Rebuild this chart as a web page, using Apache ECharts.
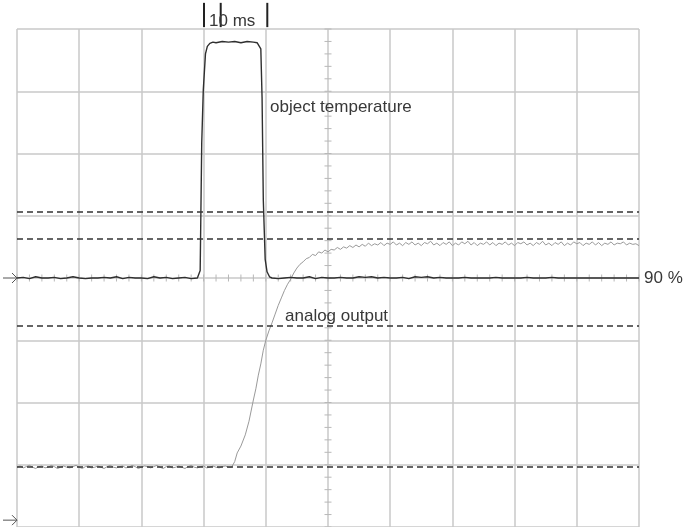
<!DOCTYPE html>
<html>
<head>
<meta charset="utf-8">
<script src="https://cdn.jsdelivr.net/npm/echarts@6/dist/echarts.min.js"></script>
<style>
html,body{margin:0;padding:0;background:#fff;}
#chart{width:683px;height:527px;}
</style>
</head>
<body>
<div id="chart"></div>
<script>
// x: time in ms (10 ms per division), y: screen divisions (0 = bottom, 8 = top)
const objTime = [0,1,2,3,4,5,6,7,8,9,10,11,12,13,14,15,16,17,18,19,20,21,22,23,24,25,26,27,28,29,
  29.3,29.45,29.7,29.95,30.3,30.6,31,31.5,32,33,34,35,36,37,38,38.6,38.9,39.2,39.4,39.6,39.9,40.2,40.6,
  41,42,43,44,45,46,47,48,49,50,51,52,53,54,55,56,57,58,59,60,61,62,63,64,65,66,67,68,69,70,
  71,72,73,74,75,76,77,78,79,80,81,82,83,84,85,86,87,88,89,90,91,92,93,94,95,96,97,98,99,100];
const objValue = [4.00,4.01,3.99,4.02,4.00,4.00,4.01,3.99,4.00,4.02,4.00,3.99,4.00,4.00,4.01,4.00,4.02,3.99,4.01,4.00,4.00,3.99,4.02,4.00,4.01,3.99,4.00,4.01,3.99,4.00,
  4.02,4.12,6.17,7.02,7.60,7.72,7.77,7.79,7.78,7.80,7.79,7.80,7.78,7.80,7.79,7.78,7.75,7.68,6.90,5.25,4.30,4.10,4.02,
  4.00,3.99,4.00,4.01,4.00,4.00,4.02,3.99,4.01,4.00,4.00,4.01,4.00,4.00,4.02,4.01,4.02,4.00,4.01,4.00,4.00,4.01,3.99,4.02,4.01,4.02,4.00,4.01,4.00,4.00,
  4.00,4.01,4.00,4.00,4.00,4.00,4.01,4.00,4.00,4.00,4.00,4.01,4.00,4.00,4.00,4.01,4.00,4.00,4.00,4.00,4.00,4.00,4.00,4.00,4.00,4.00,4.00,4.00,4.00,4.00];

const analogTime = [0,0.5,1,1.5,2,2.5,3,3.5,4,4.5,5,5.5,6,6.5,7,7.5,8,8.5,9,9.5,10,10.5,11,11.5,12,12.5,13,13.5,14,14.5,
  15,15.5,16,16.5,17,17.5,18,18.5,19,19.5,20,20.5,21,21.5,22,22.5,23,23.5,24,24.5,25,25.5,26,26.5,27,27.5,28,28.5,29,29.5,
  30,30.5,31,31.5,32,32.5,33,33.5,34,34.5,
  35,35.4,36,36.7,37.3,38,38.4,38.8,39.2,39.6,40,40.5,41,41.5,42,42.5,43,43.5,44,44.5,45,45.5,46,46.5,47,47.5,48,48.5,49,49.5,
  50,50.5,51,51.5,52,52.5,53,53.5,54,54.5,55,55.5,56,56.5,57,57.5,58,58.5,59,59.5,60,60.5,61,61.5,62,62.5,63,63.5,64,64.5,
  65,65.5,66,66.5,67,67.5,68,68.5,69,69.5,70,70.5,71,71.5,72,72.5,73,73.5,74,74.5,75,75.5,76,76.5,77,77.5,78,78.5,79,79.5,
  80,80.5,81,81.5,82,82.5,83,83.5,84,84.5,85,85.5,86,86.5,87,87.5,88,88.5,89,89.5,90,90.5,91,91.5,92,92.5,93,93.5,94,94.5,
  95,95.5,96,96.5,97,97.5,98,98.5,99,99.5,100];
const analogValue = [0.96,0.98,0.95,0.97,0.99,0.96,0.94,0.97,0.98,0.95,0.96,0.99,0.97,0.94,0.96,0.98,0.96,0.95,0.97,0.99,0.96,0.94,0.97,0.98,0.95,0.96,0.98,0.96,0.94,0.97,
  0.99,0.96,0.95,0.97,0.98,0.95,0.96,0.99,0.97,0.94,0.96,0.98,0.97,0.95,0.97,0.99,0.96,0.94,0.97,0.98,0.95,0.96,0.98,0.96,0.94,0.97,0.99,0.96,0.95,0.97,
  0.98,0.95,0.96,0.98,0.96,0.95,0.97,0.98,0.96,0.96,
  1.05,1.19,1.30,1.48,1.70,2.04,2.22,2.44,2.62,2.84,3.00,3.15,3.28,3.42,3.56,3.68,3.80,3.90,3.98,4.08,4.16,4.22,4.26,4.31,4.33,4.38,4.36,4.42,4.40,4.45,
  4.42,4.46,4.45,4.49,4.46,4.50,4.48,4.52,4.49,4.53,4.50,4.54,4.51,4.56,4.52,4.55,4.53,4.57,4.52,4.56,4.54,4.58,4.53,4.56,4.52,4.57,4.54,4.58,4.53,4.56,
  4.52,4.57,4.55,4.59,4.53,4.56,4.52,4.57,4.54,4.58,4.52,4.56,4.53,4.58,4.55,4.59,4.53,4.57,4.52,4.56,4.54,4.58,4.53,4.57,4.52,4.56,4.54,4.58,4.53,4.56,
  4.52,4.57,4.55,4.58,4.53,4.56,4.52,4.57,4.54,4.59,4.53,4.56,4.52,4.57,4.54,4.58,4.52,4.56,4.53,4.58,4.55,4.57,4.52,4.56,4.54,4.58,4.53,4.57,4.52,4.56,
  4.54,4.58,4.53,4.56,4.55,4.58,4.53,4.56,4.54,4.55,4.52];

// dashed reference levels (divisions)
const thresholdLevels = [5.06, 4.63, 3.23, 0.96];
// marker bars above the screen (ms)
const markerTimes = [30.06, 32.75, 40.24];
// channel arrows on the left (divisions)
const channelArrows = [4.0, 0.11];

const seriesLabels = ['object temperature', 'analog output'];
const scaleLabel = '10 ms';
const levelLabel = '90 %';

const chart = echarts.init(document.getElementById('chart'), null, {renderer: 'canvas'});

const objData = objTime.map((t, i) => [t, objValue[i]]);
const analogData = analogTime.map((t, i) => [t, analogValue[i]]);

const FONT = '17px "Liberation Sans", Arial, sans-serif';
const TEXT_COLOR = '#383838';

function decorRender(params, api) {
  const children = [];
  // minor ticks along centre vertical line (x = 50 ms)
  for (let i = 0; i <= 40; i++) {
    const p = api.coord([50, i * 0.2]);
    children.push({type: 'line', shape: {x1: p[0] - 3.5, y1: p[1], x2: p[0] + 3.5, y2: p[1]},
      style: {stroke: '#b8b8b8', lineWidth: 1}});
  }
  // minor ticks along centre horizontal line (y = 4 div)
  for (let i = 0; i <= 50; i++) {
    const p = api.coord([i * 2, 4]);
    children.push({type: 'line', shape: {x1: p[0], y1: p[1] - 3.5, x2: p[0], y2: p[1] + 3.5},
      style: {stroke: '#b8b8b8', lineWidth: 1}});
  }
  // marker bars
  markerTimes.forEach(t => {
    const a = api.coord([t, 8.42]);
    const b = api.coord([t, 8.03]);
    children.push({type: 'line', shape: {x1: a[0], y1: a[1], x2: b[0], y2: b[1]},
      style: {stroke: '#222', lineWidth: 2}});
  });
  // channel arrows
  channelArrows.forEach(v => {
    const tip = api.coord([0, v]);
    children.push({type: 'polyline', shape: {points: [[tip[0] - 14, tip[1]], [tip[0], tip[1]]]},
      style: {stroke: '#555', lineWidth: 1, fill: null}});
    children.push({type: 'polyline', shape: {points: [[tip[0] - 5, tip[1] - 5], [tip[0], tip[1]], [tip[0] - 5, tip[1] + 5]]},
      style: {stroke: '#555', lineWidth: 1, fill: null}});
  });
  // texts
  const texts = [
    {text: scaleLabel, at: [30.87, 8.13]},
    {text: seriesLabels[0], at: [40.68, 6.75]},
    {text: seriesLabels[1], at: [43.09, 3.39]}
  ];
  texts.forEach(t => {
    const p = api.coord(t.at);
    children.push({type: 'text', x: p[0], y: p[1],
      style: {text: t.text, font: FONT, fill: TEXT_COLOR, align: 'left', verticalAlign: 'middle'}});
  });
  return {type: 'group', children: children};
}

const option = {
  animation: false,
  backgroundColor: '#fff',
  grid: {left: 17, top: 29, right: 44, bottom: 0, containLabel: false},
  xAxis: {
    type: 'value', min: 0, max: 100, interval: 10,
    axisLine: {show: false}, axisTick: {show: false}, axisLabel: {show: false},
    splitLine: {show: true, lineStyle: {color: '#c9c9c9', width: 1.5}}
  },
  yAxis: {
    type: 'value', min: 0, max: 8, interval: 1,
    axisLine: {show: false}, axisTick: {show: false}, axisLabel: {show: false},
    splitLine: {show: true, lineStyle: {color: '#c9c9c9', width: 1.5}}
  },
  series: [
    {
      type: 'custom', name: 'decor', silent: true, clip: false,
      data: [[0, 0]], renderItem: decorRender, z: 1
    },
    {
      type: 'line', name: seriesLabels[1], data: analogData,
      showSymbol: false, silent: true, z: 3,
      lineStyle: {color: '#9a9a9a', width: 1},
      markLine: {
        silent: true, symbol: ['none', 'none'], animation: false,
        label: {show: false},
        lineStyle: {type: [6, 4], color: '#333', width: 1.5},
        data: thresholdLevels.map(v => ({yAxis: v}))
      }
    },
    {
      type: 'line', name: seriesLabels[0], data: objData,
      showSymbol: false, silent: true, z: 4,
      lineStyle: {color: '#2f2f2f', width: 1.4},
      endLabel: {show: true, formatter: levelLabel, distance: 5,
        color: TEXT_COLOR, fontSize: 17, fontFamily: '"Liberation Sans", Arial, sans-serif'}
    }
  ]
};
chart.setOption(option);
</script>
</body>
</html>
